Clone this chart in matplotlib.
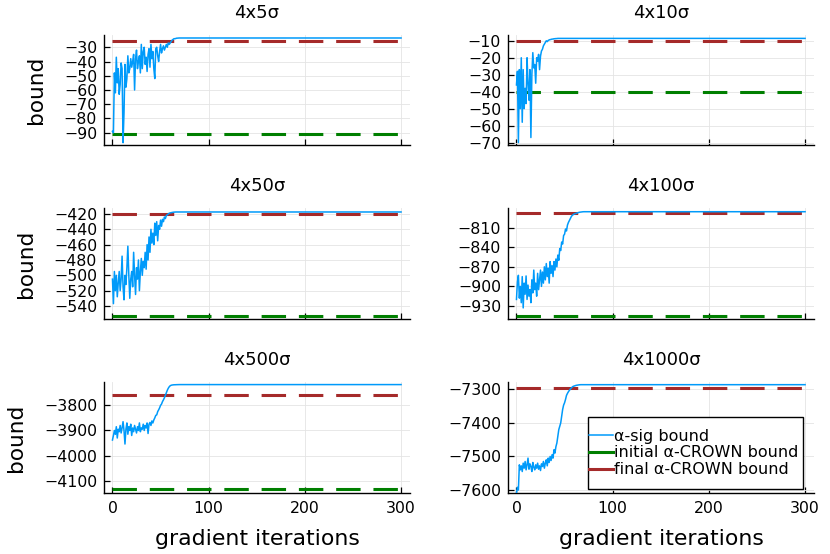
import matplotlib
matplotlib.use("Agg")
import matplotlib.pyplot as plt
from matplotlib.lines import Line2D
from matplotlib.patches import Rectangle

# panel titles
titles = ["4x5σ", "4x10σ", "4x50σ", "4x100σ", "4x500σ", "4x1000σ"]

# alpha-sig bound: noisy head (one value per iteration from 0), then flat to 300
sig_5 = [-89, -90, -48, -62, -37, -55, -45, -63, -56, -41, -45, -97, -76, -42,
         -58, -52, -36, -48, -45, -38, -44, -40, -35, -60, -38, -32, -45, -40,
         -36, -48, -28, -45, -33, -30, -42, -37, -47, -35, -31, -44, -28, -38,
         -33, -45, -52, -31, -30, -36, -40, -33, -28, -34, -31, -29, -32, -30,
         -28, -30, -27, -28, -27, -26, -25, -24.5, -24, -24, -23.8, -23.6,
         -23.6, -23.5, -23.5]
sig_10 = [-36, -28, -70, -27, -50, -20, -58, -27, -50, -38, -47, -20, -35, -45,
          -27, -67, -30, -17, -26, -24, -35, -20, -22, -18, -27, -19, -16, -15,
          -13, -12, -11, -10, -10.5, -9.8, -9.5, -9.3, -9.2, -9.0, -9.0, -8.8,
          -8.8, -8.7, -8.7, -8.6, -8.6]
sig_50 = [-505, -537, -495, -520, -500, -528, -510, -495, -520, -505, -475,
          -515, -532, -500, -512, -490, -462, -500, -530, -505, -495, -515,
          -470, -500, -525, -490, -505, -480, -520, -495, -478, -500, -482,
          -490, -470, -492, -460, -480, -450, -470, -440, -458, -445, -460,
          -432, -448, -430, -455, -435, -440, -428, -436, -427, -430, -424,
          -426, -422, -421, -420, -419, -418.6, -418.3, -418, -417.8, -417.6,
          -417.5, -417.4]
sig_100 = [-920, -893, -883, -918, -900, -925, -885, -933, -895, -912, -884,
           -920, -898, -915, -905, -925, -890, -910, -875, -905, -895, -915,
           -880, -905, -890, -875, -900, -878, -895, -870, -890, -865, -885,
           -872, -895, -862, -880, -868, -885, -862, -875, -858, -870, -852,
           -860, -842, -845, -832, -835, -822, -820, -812, -815, -806, -802,
           -799, -796, -793, -791, -790, -789, -788.5, -788, -787.5, -787,
           -786.5, -786.2, -786, -785.8, -785.6, -785.5]
sig_500 = [-3938, -3920, -3900, -3915, -3885, -3930, -3895, -3905, -3880,
           -3910, -3890, -3865, -3900, -3954, -3895, -3870, -3915, -3885,
           -3900, -3875, -3920, -3890, -3905, -3880, -3895, -3910, -3885,
           -3900, -3870, -3905, -3890, -3895, -3875, -3900, -3880, -3890,
           -3870, -3912, -3875, -3868, -3880, -3862, -3870, -3858, -3850,
           -3840, -3838, -3825, -3818, -3810, -3800, -3795, -3785, -3778,
           -3770, -3760, -3750, -3740, -3732, -3726, -3722, -3720, -3719,
           -3718.5, -3718, -3718, -3717.8, -3717.6, -3717.5, -3717.4, -3717.3]
sig_1000 = [-7610, -7592, -7600, -7525, -7540, -7528, -7545, -7520, -7535,
            -7515, -7540, -7525, -7505, -7538, -7522, -7530, -7545, -7518,
            -7532, -7540, -7525, -7535, -7520, -7538, -7528, -7542, -7522,
            -7530, -7515, -7535, -7520, -7510, -7528, -7505, -7518, -7500,
            -7512, -7495, -7505, -7480, -7490, -7471, -7460, -7440, -7420,
            -7410, -7400, -7380, -7360, -7347, -7340, -7330, -7318, -7312,
            -7307, -7303, -7299, -7296, -7293, -7291, -7290, -7289, -7288,
            -7287.5, -7287, -7286.5, -7286.2, -7286]
sig_heads = [sig_5, sig_10, sig_50, sig_100, sig_500, sig_1000]

# horizontal reference bounds
init_crown = [-91.1, -40.4, -553, -945.3, -4134, -7800]
final_crown = [-25.6, -10.1, -420.1, -788, -3759, -7295]

n_iter = 300

ylims = [(-98.6, -21.4), (-71.4, -6.6), (-557, -412.2), (-950, -779.8),
         (-4149, -3707), (-7609, -7278)]
yticks = [[-90, -80, -70, -60, -50, -40, -30],
          [-70, -60, -50, -40, -30, -20, -10],
          [-540, -520, -500, -480, -460, -440, -420],
          [-930, -900, -870, -840, -810],
          [-4100, -4000, -3900, -3800],
          [-7600, -7500, -7400, -7300]]
xticks = [0, 100, 200, 300]

BLUE = "#009AFA"
GREEN = "#007F00"
BROWN = "#A52A2A"
DASH = (0, (8.0, 4.2))

fig = plt.figure(figsize=(8.3, 5.54), dpi=100)

W, H = 830, 554
cols = [104, 508]
rows = [(35, 145), (208, 319), (382, 493)]

axes = []
for i in range(6):
    r, c = divmod(i, 2)
    top, bot = rows[r]
    ax = fig.add_axes([cols[c] / W, 1 - bot / H, 306 / W, (bot - top) / H])
    axes.append(ax)

    head = sig_heads[i]
    xs = list(range(len(head))) + [n_iter]
    ys = head + [head[-1]]
    ax.plot([0, n_iter], [init_crown[i]] * 2, color=GREEN, lw=2.2,
            linestyle=DASH, zorder=2)
    ax.plot([0, n_iter], [final_crown[i]] * 2, color=BROWN, lw=2.2,
            linestyle=DASH, zorder=2)
    ax.plot(xs, ys, color=BLUE, lw=1.1, zorder=3)

    ax.set_xlim(-8.8, 309.3)
    ax.set_ylim(*ylims[i])
    ax.set_xticks(xticks)
    ax.set_yticks(yticks[i])
    ax.grid(True, color="#e4e4e4", lw=0.6)
    ax.set_axisbelow(True)
    for s in ["top", "right"]:
        ax.spines[s].set_visible(False)
    for s in ["left", "bottom"]:
        ax.spines[s].set_linewidth(1.0)
    ax.tick_params(direction="in", length=4, width=0.9, labelsize=11.3, pad=5)
    ax.tick_params(axis="x", pad=6)
    ax.set_title(titles[i], fontsize=13, pad=12)
    if r < 2:
        ax.tick_params(labelbottom=False)
    else:
        ax.set_xlabel("gradient iterations", fontsize=15.8, labelpad=9)
    if c == 0:
        ax.set_ylabel("bound", fontsize=15.6, labelpad=13)

# legend box in the last panel
lax = axes[5]
box = (0.261, 0.036, 0.703, 0.649)
lax.add_patch(Rectangle(box[:2], box[2], box[3], transform=lax.transAxes,
                        facecolor="white", edgecolor="black", lw=1.0,
                        zorder=4))
handles = [Line2D([], [], color=BLUE, lw=1.1),
           Line2D([], [], color=GREEN, lw=2.2),
           Line2D([], [], color=BROWN, lw=2.2)]
leg = lax.legend(handles, ["α-sig bound", "initial α-CROWN bound",
                           "final α-CROWN bound"],
                 loc="center left",
                 bbox_to_anchor=(box[0], box[1] + box[3] / 2),
                 fontsize=11.5, frameon=False, borderpad=0,
                 borderaxespad=0.1, handlelength=1.45, handletextpad=0.1,
                 labelspacing=0.12)
leg.set_zorder(5)

fig.savefig("out.png", dpi=100)
